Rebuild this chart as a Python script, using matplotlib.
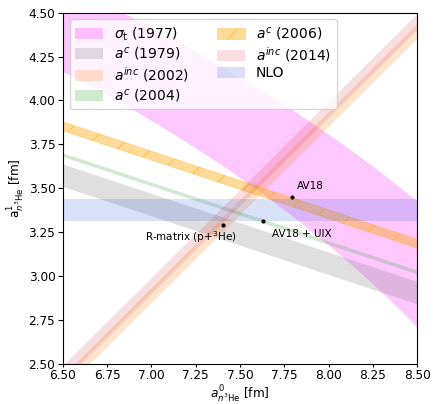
import numpy as np
import matplotlib
matplotlib.use('Agg')
import matplotlib.pyplot as plt

# sigma_t (1977): band a0^2 + 3 a1^2 in [low, high] (fm^2)
sigma_lo = 94.3
sigma_hi = 107.5

# coherent bands: a_c = (a0 + 3 a1) / 4, center and half width (fm)
coh_labels = [r'$a^c$ (1979)', r'$a^c$ (2004)', r'$a^c$ (2006)']
coh_center = [4.306, 4.394, 4.515]
coh_err = [0.048, 0.008, 0.019]

# incoherent bands: a1 - a0, center and half width (fm)
inc_labels = [r'$a^{inc}$ (2002)', r'$a^{inc}$ (2014)']
inc_center = [-4.11, -4.055]
inc_err = [0.042, 0.045]

# NLO band for a1
nlo_lo, nlo_hi = 3.316, 3.44

# model points
pt_names = ['AV18', 'AV18 + UIX', r'R-matrix (p+$^3$He)']
pt_a0 = [7.792, 7.632, 7.402]
pt_a1 = [3.453, 3.316, 3.292]

xticks = [6.5, 6.75, 7.0, 7.25, 7.5, 7.75, 8.0, 8.25, 8.5]
yticks = [2.5, 2.75, 3.0, 3.25, 3.5, 3.75, 4.0, 4.25, 4.5]

fig = plt.figure(figsize=(4.34, 4.04), dpi=100)
ax = fig.add_axes([0.145, 0.098, 0.816, 0.871])

x = np.linspace(6.3, 8.7, 400)

# sigma_t band (ellipse ring)
lo = np.sqrt(np.clip((sigma_lo - x**2) / 3, 0, None))
hi = np.sqrt(np.clip((sigma_hi - x**2) / 3, 0, None))
ax.fill_between(x, lo, hi, color='magenta', alpha=0.22, lw=0,
                label=r'$\sigma_{\mathrm{t}}$ (1977)')

def coh_band(i, **kw):
    c, e = coh_center[i], coh_err[i]
    ax.fill_between(x, (4 * (c - e) - x) / 3, (4 * (c + e) - x) / 3,
                    label=coh_labels[i], **kw)

def inc_band(i, **kw):
    c, e = inc_center[i], inc_err[i]
    ax.fill_between(x, x + c - e, x + c + e, label=inc_labels[i], **kw)

coh_band(0, color='grey', alpha=0.25, lw=0)
inc_band(0, color='C1', alpha=0.2, lw=0)
coh_band(1, color='C2', alpha=0.22, lw=0)
coh_band(2, facecolor='orange', edgecolor='orange', alpha=0.4, lw=0.5, hatch='/')
inc_band(1, color='C3', alpha=0.15, lw=0)
ax.fill_between(x, nlo_lo, nlo_hi, color='royalblue', alpha=0.2, lw=0, label='NLO')

ax.plot(pt_a0, pt_a1, 'k.', markersize=4)
offs = [((4, 4), 'left', 'bottom'), ((6, -6), 'left', 'top'), ((10, -3), 'right', 'top')]
for i, name in enumerate(pt_names):
    (dx, dy), ha, va = offs[i]
    ax.annotate(name, (pt_a0[i], pt_a1[i]), textcoords='offset points',
                xytext=(dx, dy), ha=ha, va=va, fontsize=7.5)

ax.set_xlim(6.5, 8.5)
ax.set_ylim(2.5, 4.5)
ax.set_xticks(xticks)
ax.set_yticks(yticks)
ax.set_xticklabels(['%.2f' % v for v in xticks])
ax.set_yticklabels(['%.2f' % v for v in yticks])
ax.tick_params(labelsize=8.7)
ax.tick_params(axis='x', length=2.5, pad=1)
ax.tick_params(axis='y', pad=2)
ax.set_xlabel(r'$a^0_{n^3\mathrm{He}}$ [fm]', fontsize=8.7, labelpad=1)
ax.set_ylabel(r'$\mathrm{a}^1_{n^3\mathrm{He}}$ [fm]', fontsize=8.7, labelpad=1)
ax.legend(loc='upper left', ncol=2, fontsize=10, labelspacing=0.2,
          handleheight=0.85, columnspacing=2.0)

plt.savefig('out.png', dpi=100, facecolor='white')
